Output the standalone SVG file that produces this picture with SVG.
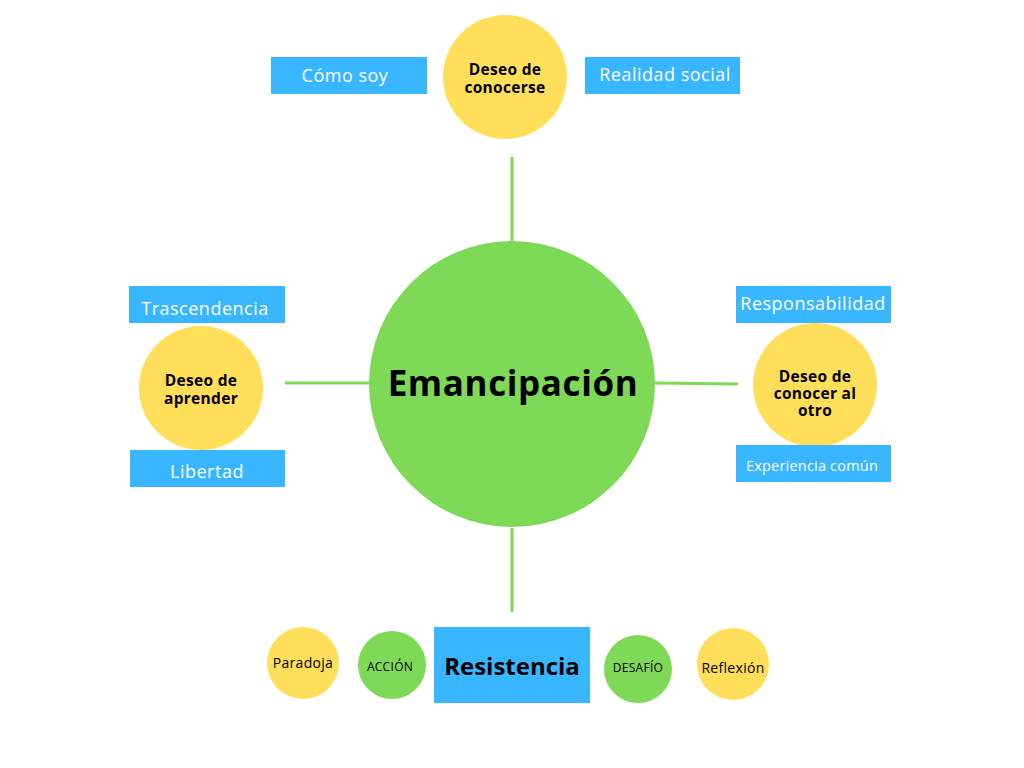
<svg xmlns="http://www.w3.org/2000/svg" width="1024" height="768" viewBox="0 0 1024 768">
<style>
.g{fill:#7ED957}.y{fill:#FFDE59}.b{fill:#38B6FF}
.ln{stroke:#7ED957;stroke-width:3;fill:none}
text{font-family:"Open Sans","Noto Sans","DejaVu Sans",sans-serif;text-anchor:middle}
.w{fill:#fff;font-size:18px;letter-spacing:0.5px}
.k{fill:#000;font-weight:bold;font-size:15.5px;letter-spacing:0.3px}
.s{fill:#000;font-size:14px;letter-spacing:0.3px}
.xs{fill:#000;font-size:12px;letter-spacing:0.3px}
</style>
<rect width="1024" height="768" fill="#fff"/>
<g id="connectors">
<line class="ln" x1="512" y1="157" x2="512" y2="241"/>
<line class="ln" x1="285" y1="383" x2="369" y2="383"/>
<line class="ln" x1="655" y1="383" x2="738" y2="384"/>
<line class="ln" x1="512" y1="528" x2="512" y2="612"/>
</g>
<g id="emancipacion"><circle class="g" cx="512" cy="384" r="143"/><text x="513" y="396" style="font-size:35px;font-weight:bold;fill:#000;letter-spacing:0.6px">Emancipación</text></g>
<g id="conocerse"><circle class="y" cx="505" cy="77" r="62"/><text class="k" x="505" y="75">Deseo de</text><text class="k" x="505" y="93">conocerse</text></g>
<g id="como-soy"><rect class="b" x="271" y="57" width="156" height="37"/><text class="w" x="345" y="82">Cómo soy</text></g>
<g id="realidad"><rect class="b" x="585" y="57" width="155" height="37"/><text class="w" x="665" y="81">Realidad social</text></g>
<g id="aprender"><circle class="y" cx="201" cy="388" r="62"/><text class="k" x="201" y="386">Deseo de</text><text class="k" x="201" y="404">aprender</text></g>
<g id="trascendencia"><rect class="b" x="129" y="286" width="156" height="37"/><text class="w" x="205" y="315">Trascendencia</text></g>
<g id="libertad"><rect class="b" x="130" y="450" width="155" height="37"/><text class="w" x="207" y="478">Libertad</text></g>
<g id="otro"><circle class="y" cx="815" cy="385" r="62"/><text class="k" x="815" y="382">Deseo de</text><text class="k" x="815" y="399">conocer al</text><text class="k" x="815" y="416">otro</text></g>
<g id="responsabilidad"><rect class="b" x="736" y="286" width="155" height="37"/><text class="w" x="813" y="310">Responsabilidad</text></g>
<g id="experiencia"><rect class="b" x="736" y="445" width="155" height="37"/><text class="w" x="812" y="471" style="font-size:14.5px;letter-spacing:0.2px">Experiencia común</text></g>
<g id="paradoja"><circle class="y" cx="303" cy="663" r="36"/><text class="s" x="303" y="668">Paradoja</text></g>
<g id="accion"><circle class="g" cx="392" cy="665" r="34"/><text class="xs" x="390" y="671">ACCIÓN</text></g>
<g id="resistencia"><rect class="b" x="434" y="627" width="156" height="76"/><text x="512" y="675" style="font-size:24px;font-weight:bold;fill:#000">Resistencia</text></g>
<g id="desafio"><circle class="g" cx="638" cy="669" r="34"/><text class="xs" x="638" y="672">DESAFÍO</text></g>
<g id="reflexion"><circle class="y" cx="733" cy="664" r="36"/><text class="s" x="733" y="673">Reflexión</text></g>
</svg>
